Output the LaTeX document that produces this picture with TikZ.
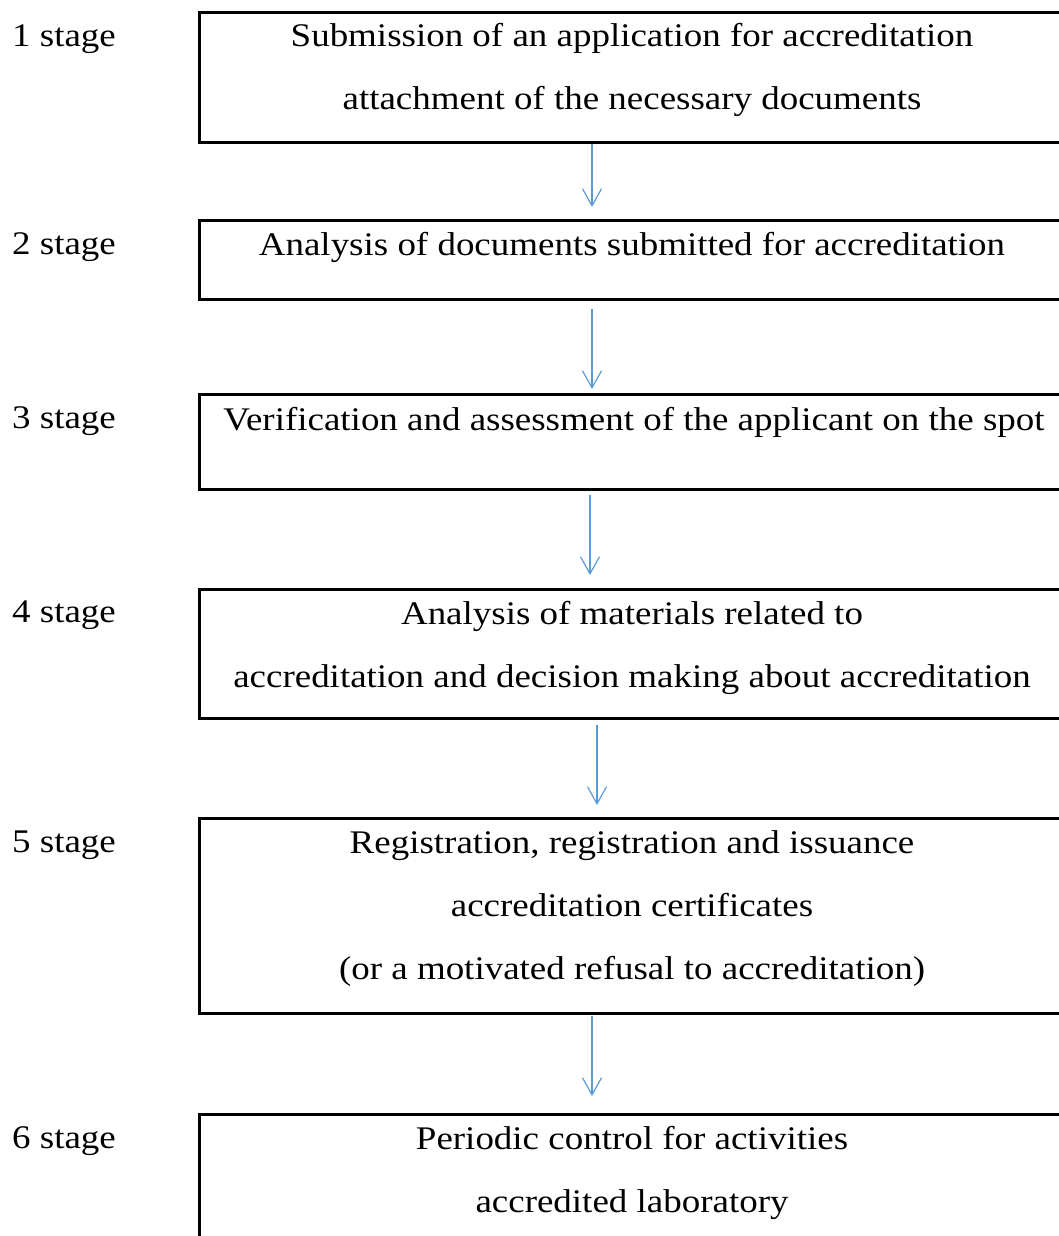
\documentclass[tikz,border=0pt]{standalone}
\usepackage{fontspec}
\setmainfont[FakeStretch=1.12]{Liberation Serif}
\usetikzlibrary{arrows.meta}
\definecolor{arrblue}{RGB}{91,155,213}
\begin{document}
\begin{tikzpicture}[x=1pt,y=-1pt,
  box/.style={draw, line width=3pt, minimum width=868pt, inner sep=0pt, anchor=north west},
  txt/.style={align=center, inner sep=0pt, font=\fontsize{33}{63}\selectfont, anchor=base},
  lab/.style={inner sep=0pt, font=\fontsize{33}{40}\selectfont, anchor=base west},
  arr/.style={draw=arrblue, line width=1.2pt, -{Straight Barb[length=17pt,width=19pt]}}]
\clip (0,0) rectangle (1059,1236);
% boxes
\node[box, minimum height=130pt] (b1) at (198,11) {};
\node[box, minimum height=79pt]  (b2) at (198,219) {};
\node[box, minimum height=95pt]  (b3) at (198,393) {};
\node[box, minimum height=129pt] (b4) at (198,588) {};
\node[box, minimum height=195pt] (b5) at (198,817) {};
\node[box, minimum height=170pt] (b6) at (198,1113) {};
% texts (anchor base = baseline of the last line)
\node[txt] (t1) at (632,110) {Submission of an application for accreditation\\attachment of the necessary documents};
\node[txt] (t2) at (632,255) {Analysis of documents submitted for accreditation};
\node[txt] (t3) at (634,430) {Verification and assessment of the applicant on the spot};
\node[txt] (t4) at (632,687) {Analysis of materials related to\\accreditation and decision making about accreditation};
\node[txt] (t5) at (632,979) {Registration, registration and issuance\\accreditation certificates\\(or a motivated refusal to accreditation)};
\node[txt] (t6) at (632,1212) {Periodic control for activities\\accredited laboratory};
% stage labels
\node[lab] (s1) at (12,47) {1 stage};
\node[lab] (s2) at (12,254) {2 stage};
\node[lab] (s3) at (12,428) {3 stage};
\node[lab] (s4) at (12,622) {4 stage};
\node[lab] (s5) at (12,852) {5 stage};
\node[lab] (s6) at (12,1148) {6 stage};
% arrow columns
\coordinate (x1) at (592,0);
\coordinate (x2) at (592,0);
\coordinate (x3) at (590,0);
\coordinate (x4) at (597,0);
\coordinate (x5) at (592,0);
\draw[arr, shorten >=12pt] (b1.south -| x1) -- (b2.north -| x1);
\draw[arr, shorten <=8pt, shorten >=4pt] (b2.south -| x2) -- (b3.north -| x2);
\draw[arr, shorten <=4pt, shorten >=13pt] (b3.south -| x3) -- (b4.north -| x3);
\draw[arr, shorten <=5pt, shorten >=12pt] (b4.south -| x4) -- (b5.north -| x4);
\draw[arr, shorten <=1pt, shorten >=17pt] (b5.south -| x5) -- (b6.north -| x5);
\end{tikzpicture}
\end{document}
